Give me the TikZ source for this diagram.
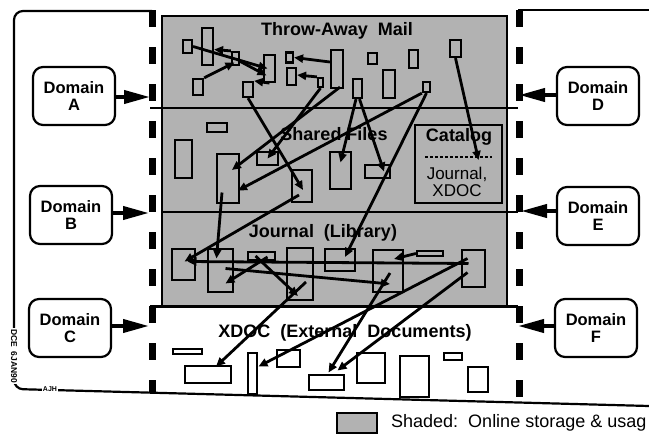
\documentclass[tikz,border=0pt]{standalone}
\usepackage{fontspec}
\setmainfont{Liberation Sans}
\usetikzlibrary{arrows.meta}
\tikzset{
 shadefill/.style={fill=black!30},
 frameline/.style={line width=2.2pt},
 dashv/.style={line width=7pt, dash pattern=on 17pt off 20pt},
 rb/.style={draw, line width=2.2pt, inner sep=0pt, fill=black!30},
 wb/.style={draw, line width=2.2pt, inner sep=0pt, fill=white},
 conn/.style={line width=2.8pt, -{Triangle[length=9pt,width=8pt]}},
 dom/.style={draw, line width=2.2pt, rounded corners=10pt, minimum width=82pt, minimum height=58pt, align=center, inner sep=0pt, font=\fontsize{16.5}{17}\selectfont\bfseries},
 domarr/.style={line width=4pt, -{Triangle[length=26pt,width=13pt]}},
 ttl/.style={font=\fontsize{18}{20}\selectfont\bfseries, inner sep=1pt},
 smalltxt/.style={font=\fontsize{8.5}{9}\selectfont\bfseries, fill=white, inner sep=1pt},
}
\newcommand\rbx[6]{\node[#1, minimum width=#5pt, minimum height=#6pt] (#2) at (#3,#4) {};}
\begin{document}
\begin{tikzpicture}[x=1pt,y=-1pt]
\useasboundingbox (0,0) rectangle (649,439);
\clip (0,0) rectangle (649,439);
% shaded area
\fill[shadefill] (162,16) rectangle (507,306);
\draw[frameline] (162,16) rectangle (507,306);
\draw[frameline] (150,108) -- (518,108);
\draw[frameline] (162,212) -- (518,212);
\draw[line width=3pt] (150,306) -- (518,306);
% outer frame
\draw[frameline, rounded corners=9pt] (152,11) -- (14,11) -- (14,389) -- (649,406);
\draw[frameline] (518,10) -- (649,10);
\node[smalltxt, rotate=-90] (dce) at (14,356) {DCE\ \ 6JAN90};
\node[smalltxt, font=\fontsize{7}{8}\selectfont\bfseries] (ajh) at (50,389.5) {AJH};
% dashed boundaries
\draw[dashv] (152,10) -- (152,393);
\draw[dashv] (519,10) -- (519,406);
% domains
\node[dom] (dA) at (74,96) {Domain\\A};
\node[dom] (dB) at (71,215) {Domain\\B};
\node[dom] (dC) at (70,328) {Domain\\C};
\node[dom] (dD) at (598,96) {Domain\\D};
\node[dom] (dE) at (598,216) {Domain\\E};
\node[dom] (dF) at (596,328) {Domain\\F};
\coordinate (tA) at (150,97);
\coordinate (tB) at (149,213);
\coordinate (tC) at (149,326);
\coordinate (tD) at (519,95);
\coordinate (tE) at (521,211);
\coordinate (tF) at (518,326);
\draw[domarr] (dA.east |- tA) -- (tA);
\draw[domarr] (dB.east |- tB) -- (tB);
\draw[domarr] (dC.east |- tC) -- (tC);
\draw[domarr] (dD.west |- tD) -- (tD);
\draw[domarr] (dE.west |- tE) -- (tE);
\draw[domarr] (dF.west |- tF) -- (tF);
% titles
\node[ttl] (tm) at (337,31) {Throw-Away\ \ Mail};
\node[ttl] (tsf) at (334,134) {Shared Files};
\node[ttl] (tj) at (323,233) {Journal\ \ (Library)};
\node[ttl] (tx) at (345,333) {XDOC\ \ (External\ \ Documents)};
% throw-away mail boxes
\rbx{rb}{r1}{187.5}{46.5}{9}{13}
\rbx{rb}{r2}{207.5}{46.5}{11}{37}
\rbx{rb}{r3}{235.5}{58.5}{7}{13}
\rbx{rb}{r4}{198}{87}{10}{16}
\rbx{rb}{r5}{269.5}{68.5}{11}{27}
\rbx{rb}{r6}{289.5}{57.5}{7}{10}
\rbx{rb}{r7}{291.5}{76.5}{9}{17}
\rbx{rb}{r8}{337}{69}{12}{38}
\rbx{rb}{r9}{248}{89.5}{10}{15}
\rbx{rb}{r10}{320.5}{82.5}{5}{9}
\rbx{rb}{r11}{357.5}{88.5}{9}{19}
\rbx{rb}{r12}{372.5}{58.5}{9}{11}
\rbx{rb}{r13}{413.5}{59}{9}{18}
\rbx{rb}{r14}{389}{84}{12}{28}
\rbx{rb}{r15}{455.5}{48.5}{11}{17}
\rbx{rb}{r16}{426.5}{87}{7}{10}
% shared files boxes
\rbx{rb}{s1}{217}{127.5}{20}{9}
\rbx{rb}{s2}{183.5}{159}{17}{38}
\rbx{rb}{s3}{228}{178.5}{22}{49}
\rbx{rb}{s4}{267.5}{158.5}{21}{13}
\rbx{rb}{s5}{302}{186}{20}{32}
\rbx{rb}{s6}{340.5}{170.5}{21}{37}
\rbx{rb}{s7}{377.5}{171.5}{25}{13}
\rbx{rb}{cat}{458.5}{164}{87}{78}
\node[font=\fontsize{18}{20}\selectfont\bfseries, inner sep=1pt] (catt) at (459,137) {Catalog};
\coordinate (cdl) at (425,157);
\coordinate (cdr) at (492,157);
\draw[line width=1.2pt, dash pattern=on 3pt off 2pt] (cdl) -- (cdr);
\node[font=\fontsize{17}{17}\selectfont, align=center, inner sep=1pt] (catj) at (457,182) {Journal,\\XDOC};
% journal boxes
\rbx{rb}{j1}{183.5}{264.5}{23}{31}
\rbx{rb}{j2}{220.5}{270.5}{25}{43}
\rbx{rb}{j3}{261.5}{256}{27}{8}
\rbx{rb}{j4}{300}{274}{26}{52}
\rbx{rb}{j5}{340}{260}{30}{22}
\rbx{rb}{j6}{388}{271}{30}{42}
\rbx{rb}{j7}{430}{253.5}{26}{5}
\rbx{rb}{j8}{473.5}{268.5}{23}{37}
% xdoc boxes
\rbx{wb}{x0}{187.5}{351.5}{29}{5}
\rbx{wb}{x1}{208}{374.5}{46}{17}
\rbx{wb}{x3}{252.5}{373.5}{9}{41}
\rbx{wb}{x2}{288.5}{358.5}{23}{17}
\rbx{wb}{x5}{326.5}{382.5}{35}{15}
\rbx{wb}{x6}{371}{368}{28}{30}
\rbx{wb}{x7}{414.5}{376.5}{29}{41}
\rbx{wb}{x8}{453}{356.5}{18}{7}
\rbx{wb}{x9}{478}{379.5}{20}{25}
% connectors: throw-away mail
\draw[conn] (r1.east) -- ([shift={(-2,0)}]r5.center);
\draw[conn] (r3.north west) -- ([shift={(0,3)}]r2.east);
\draw[conn] (r4.north east) -- ([shift={(-1,4)}]r3.center);
\draw[conn] ([shift={(3,2)}]r3.center) -- ([shift={(-3,7)}]r5.center);
\draw[conn] ([shift={(0,-7)}]r8.west) -- (r6.east);
\draw[conn] (r10.north west) -- ([shift={(0,-1.5)}]r7.east);
\draw[conn] (r5.south) -- (r9.north east);
\draw[conn] ([shift={(3,-2)}]r8.south) -- ([shift={(4,-8.5)}]s3.center);
\draw[conn] (r10.south) -- (s4.center);
\draw[conn] (r9.south) -- ([shift={(1,4)}]s5.center);
\draw[conn] ([shift={(-1.5,0)}]r11.south) -- ([shift={(0,-8)}]s6.center);
\draw[conn] ([shift={(2,0)}]r11.south) -- ([shift={(6.5,0)}]s7.center);
\draw[conn] (r16.south west) -- ([shift={(10,12)}]s3.center);
\draw[conn] (r16.south) -- ([shift={(5,-3)}]j5.center);
\draw[conn] (r15.south) -- ([shift={(20,-4)}]cat.center);
% connectors: shared files to journal
\draw[conn] ([shift={(-3,9)}]s5.center) -- ([shift={(1,-3)}]j1.center);
\draw[conn] ([shift={(-6,14)}]s3.center) -- ([shift={(-4,-12)}]j2.center);
% connectors: journal
\draw[conn] ([shift={(-6,0)}]j3.center) -- ([shift={(-2,22)}]j4.center);
\draw[conn] ([shift={(6,1)}]j3.center) -- ([shift={(5,13)}]j2.center);
\draw[conn] ([shift={(-5,-5)}]j8.center) -- ([shift={(4,-3)}]j1.center);
\draw[conn] ([shift={(5,-2)}]j2.center) -- ([shift={(2,13)}]j6.center);
\draw[conn] (j7.west) -- ([shift={(6,-12)}]j6.center);
% connectors: journal to xdoc
\draw[conn] ([shift={(6,8)}]j4.center) -- ([shift={(8,-8)}]x1.center);
\draw[conn] ([shift={(-6,-10)}]j8.center) -- ([shift={(6,-7)}]x3.center);
\draw[conn] ([shift={(2,2)}]j6.center) -- ([shift={(2,-10)}]x5.center);
\draw[conn] ([shift={(-6,4)}]j8.center) -- ([shift={(11,-12)}]x5.center);
% legend
\node[rb, minimum width=40pt, minimum height=20pt] (leg) at (357,423) {};
\node[anchor=west, font=\fontsize{18}{20}\selectfont, inner sep=0pt] (legt) at (391,423) {Shaded:\ \ Online storage \& usag};
\end{tikzpicture}
\end{document}
